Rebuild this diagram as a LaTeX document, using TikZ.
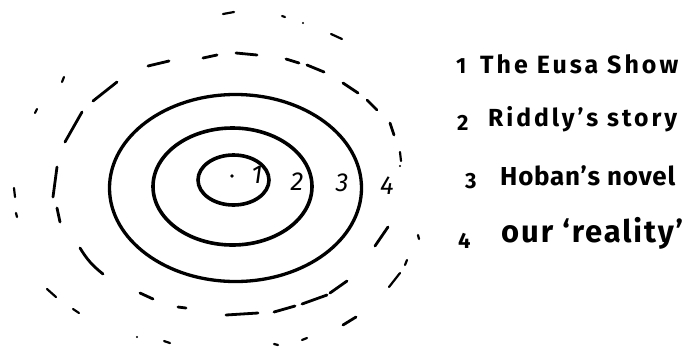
\documentclass[tikz,border=0pt]{standalone}
\usepackage{fontspec}
\setmainfont{Fira Sans}
\usepackage{graphicx}
\newcommand{\keytext}[3][12]{\resizebox{#2}{!}{\addfontfeature{LetterSpace=#1}#3}}
\begin{document}
\begin{tikzpicture}[x=1pt,y=-1pt,
  ring/.style={line width=3.6pt},
  dsh/.style={line width=2.8pt, line cap=round},
  dot/.style={line width=2.2pt, line cap=round},
  inlabel/.style={font=\fontsize{26}{26}\selectfont\itshape, inner sep=0pt},
  key/.style={anchor=base west, inner sep=0pt, font=\fontsize{22}{22}\selectfont\bfseries}]
\useasboundingbox (0,0) rectangle (688,349);

% solid rings
\draw[ring] (233.5,180) ellipse [x radius=35.5, y radius=25];
\draw[ring] (232.5,186.5) ellipse [x radius=79.5, y radius=58.5];
\draw[ring, line width=3.3pt] (235.5,188) ellipse [x radius=126, y radius=93.5];

% centre dot
\fill (232,176) circle (1.8);

% ring labels
\node[inlabel] (n1) at (257,175) {1};
\node[inlabel] (n2) at (297,182) {2};
\node[inlabel] (n3) at (342,183) {3};
\node[inlabel] (n4) at (387,186) {4};

% dashed ring (our reality)
\draw[dsh] (148,66) -- (169,61);
\draw[dsh] (203,58) -- (217,55);
\draw[dsh] (236,53) -- (257,55);
\draw[dsh] (286,59) -- (299,63);
\draw[dsh] (307,65) -- (324,72);
\draw[dsh] (343,83) -- (358,93);
\draw[dsh] (367,100) -- (377,110);
\draw[dsh] (390,123) -- (394,135);
\draw[dot] (400,152) -- (401,161);
\fill (400,166) circle (1.1);
\draw[dsh] (388,227) -- (375,246);
\draw[dsh] (330,293) -- (347,281);
\draw[dsh] (302,304) -- (327,295);
\draw[dsh] (274,312) -- (295,306);
\draw[dsh] (226,315) -- (258,313);
\draw[dsh] (178,307) -- (186,308);
\draw[dsh] (140,293) -- (153,299);
\draw[dsh] (80,248) to[bend right=10] (103,274);
\draw[dsh] (57,208) -- (60,222);
\draw[dsh] (57,167) -- (53,197);
\draw[dsh] (82,112) -- (65,142);
\draw[dsh] (117,82) -- (93,101);

% scattered outer marks
\draw[dot] (223,14) -- (234,12);
\draw[dot] (282,16) -- (285,17);
\fill (303,23) circle (1.2);
\draw[dot] (331,34) -- (342,39);
\draw[dot] (62,82) -- (64,77);
\draw[dot] (35,113) -- (37,109);
\draw[dot] (14,188) -- (15,197);
\draw[dot] (16,213) -- (17,217);
\draw[dot] (47,289) -- (56,297);
\draw[dot] (73,309) -- (79,313);
\fill (137,337) circle (1.1);
\draw[dot] (164,341) -- (170,343);
\draw[dot] (274,344) -- (278,345);
\draw[dot] (302,340) -- (307,338);
\draw[dsh] (343,325) -- (356,317);
\draw[dot] (389,287) -- (400,273);
\draw[dot] (405,265) -- (407,260);
\draw[dot] (418,235) -- (419,239);

% key
\node[key] (k1) at (456,73) {1};
\node[key] (t1) at (480,73) {\keytext{198pt}{The Eusa Show}};
\node[key] (k2) at (457,130) {2};
\node[key] (t2) at (488,126) {\keytext{189pt}{Riddly's story}};
\node[key] (k3) at (465,188) {3};
\node[key] (t3) at (500,185) {\keytext[3]{175pt}{Hoban's novel}};
\node[key] (k4) at (458,248) {4};
\node[key] (t4) at (501,242) {\keytext[6]{182pt}{our `reality'}};
\end{tikzpicture}
\end{document}
